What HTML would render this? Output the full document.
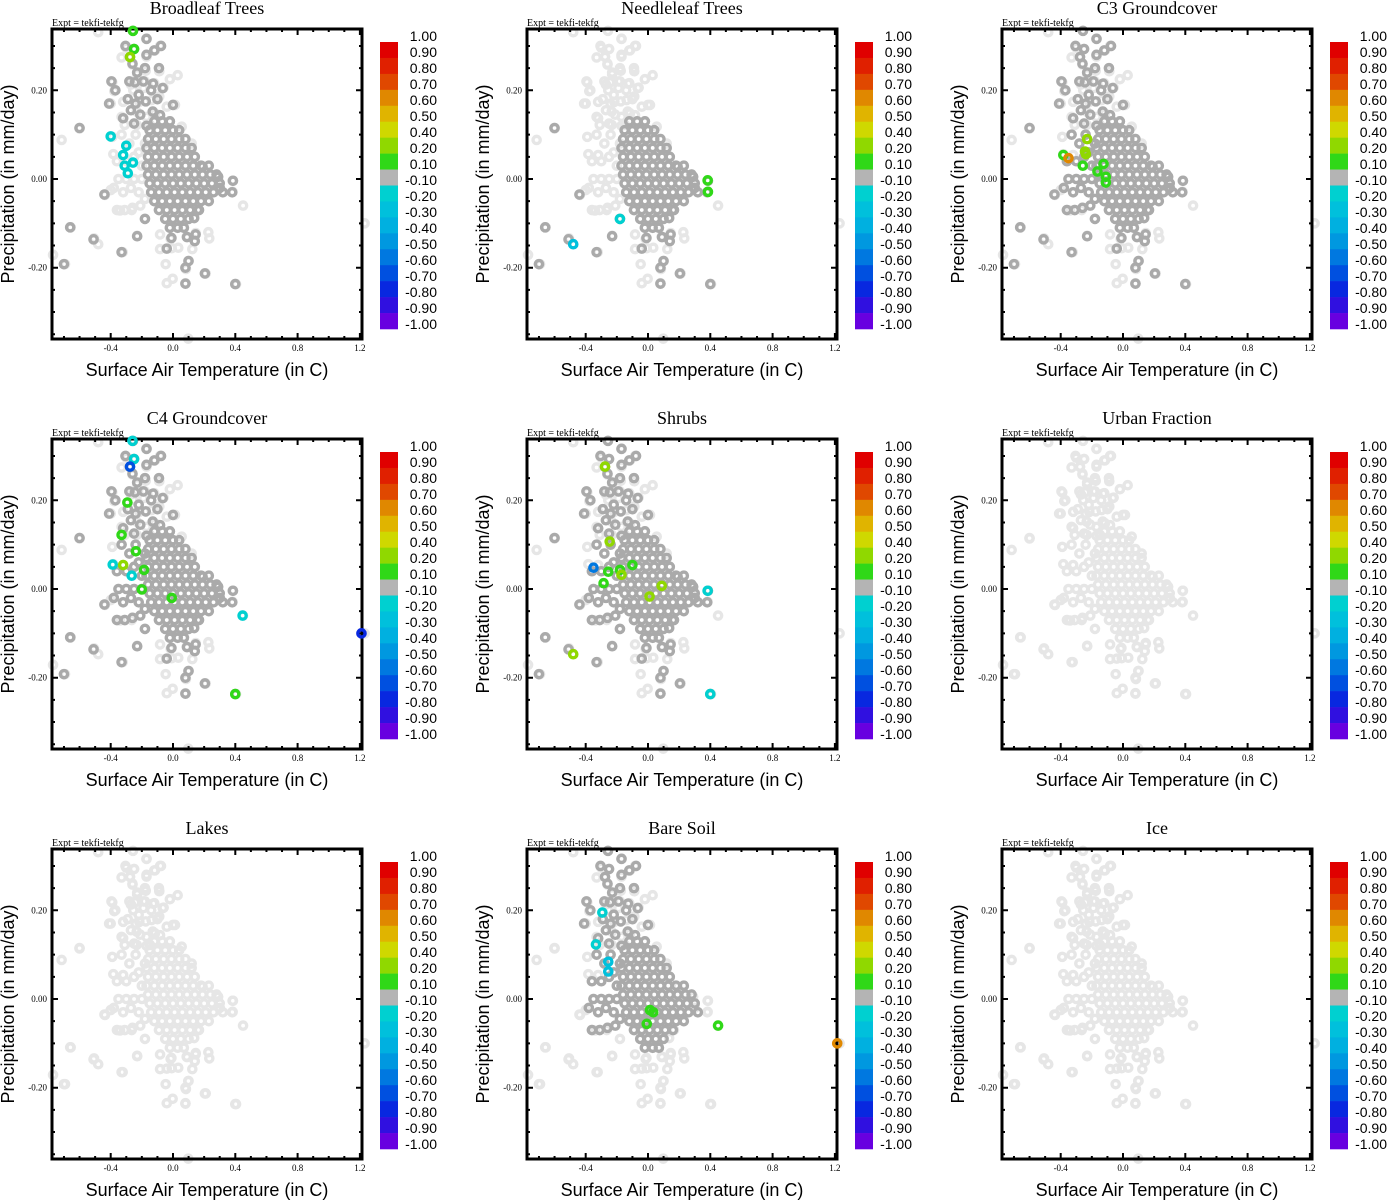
<!DOCTYPE html>
<html><head><meta charset="utf-8"><style>
html,body{margin:0;padding:0;background:#fff;}
svg{display:block;}
.tt{font-family:"Liberation Serif",serif;font-size:18px;}
.ex{font-family:"Liberation Serif",serif;font-size:10px;}
.tk{font-family:"Liberation Serif",serif;font-size:9px;}
.ax{font-family:"Liberation Sans",sans-serif;font-size:18px;}
.cb{font-family:"Liberation Sans",sans-serif;font-size:14px;}
</style></head><body>
<svg id="fig" width="1388" height="1200" viewBox="0 0 1388 1200" xmlns="http://www.w3.org/2000/svg"></svg>
<script>
// ---- data (x = temperature C, y = precipitation mm/day) ----
const cloudOuter = [[-0.48,0.331],[-0.17,0.316],[-0.3,0.296],[-0.25,0.293],[-0.083,0.3],[-0.116,0.29],[-0.33,0.274],[-0.276,0.276],[-0.17,0.276],[-0.26,0.258],[-0.175,0.244],[-0.088,0.243],[-0.23,0.236],[-0.02,0.225],[0.03,0.234],[-0.39,0.218],[-0.27,0.213],[-0.18,0.22],[-0.12,0.216],[-0.377,0.198],[-0.255,0.2],[-0.19,0.205],[-0.06,0.206],[-0.4,0.17],[-0.32,0.174],[-0.216,0.174],[-0.137,0.178],[-0.088,0.186],[-0.04,0.163],[0.013,0.167],[-0.233,0.152],[-0.33,0.14],[-0.17,0.14],[-0.116,0.148],[-0.6,0.114],[-0.715,0.088],[-0.39,0.095],[-0.31,0.122],[-0.233,0.122],[-0.148,0.122],[0.056,0.118],[0.12,0.08],[-0.383,0.056],[-0.32,0.054],[-0.437,-0.036],[-0.4,-0.025],[0.383,-0.004],[0.383,-0.029],[0.45,-0.06],[-0.34,-0.071],[-0.265,-0.07],[-0.657,-0.109],[-0.507,-0.134],[-0.48,-0.147],[-0.23,-0.128],[-0.323,-0.165],[-0.77,-0.171],[-0.693,-0.192],[-0.083,-0.125],[-0.015,-0.135],[-0.083,-0.158],[-0.008,-0.156],[0.034,-0.155],[0.088,-0.13],[0.146,-0.122],[0.227,-0.12],[0.233,-0.134],[0.124,-0.158],[-0.047,-0.192],[0.098,-0.185],[0.083,-0.203],[-0.04,-0.235],[-0.002,-0.225],[0.08,-0.235],[0.21,-0.213],[0.405,-0.237],[0.098,-0.36],[1.23,-0.1]];
const cloudTail = [[-0.257,0.334],[-0.25,0.293],[-0.276,0.275],[-0.17,0.316],[-0.077,0.3],[-0.12,0.29],[-0.305,0.3],[-0.17,0.28],[-0.26,0.26],[-0.23,0.24],[-0.18,0.25],[-0.09,0.25],[-0.395,0.22],[-0.28,0.22],[-0.244,0.218],[-0.19,0.22],[-0.128,0.215],[-0.066,0.205],[-0.1,0.18],[-0.37,0.2],[-0.41,0.17],[-0.29,0.18],[-0.24,0.17],[-0.175,0.175],[0.0,0.167],[-0.32,0.137],[-0.25,0.125],[-0.13,0.152],[-0.083,0.144],[-0.17,0.12],[-0.21,0.145],[-0.27,0.155],[-0.22,0.19],[-0.14,0.2]];
const cloudCoreLeft = [[-0.36,0.04],[-0.3,0.04],[-0.25,0.05],[-0.35,0.0],[-0.3,0.0],[-0.25,0.0],[-0.2,0.0],[-0.38,-0.02],[-0.32,-0.03],[-0.27,-0.02],[-0.22,-0.03],[-0.36,-0.07],[-0.31,-0.07],[-0.26,-0.065],[-0.21,-0.06],[-0.18,-0.045],[-0.2,0.03],[-0.22,0.06],[-0.28,0.08],[-0.33,0.1],[-0.24,0.1],[-0.18,0.08]];
const cloudCore = [
[-0.12,0.13],[-0.07,0.13],[-0.02,0.13],
[-0.15,0.11],[-0.1,0.11],[-0.05,0.11],[0.0,0.11],[0.04,0.11],
[-0.16,0.09],[-0.11,0.09],[-0.06,0.09],[-0.01,0.09],[0.04,0.09],[0.08,0.09],
[-0.17,0.07],[-0.12,0.07],[-0.07,0.07],[-0.02,0.07],[0.03,0.07],[0.08,0.07],[0.12,0.07],
[-0.16,0.05],[-0.11,0.05],[-0.06,0.05],[-0.01,0.05],[0.04,0.05],[0.09,0.05],[0.14,0.05],
[-0.17,0.03],[-0.12,0.03],[-0.07,0.03],[-0.02,0.03],[0.03,0.03],[0.08,0.03],[0.13,0.03],[0.18,0.03],[0.23,0.03],
[-0.16,0.01],[-0.11,0.01],[-0.06,0.01],[-0.01,0.01],[0.04,0.01],[0.09,0.01],[0.14,0.01],[0.19,0.01],[0.24,0.01],[0.28,0.01],
[-0.15,-0.01],[-0.1,-0.01],[-0.05,-0.01],[0.0,-0.01],[0.05,-0.01],[0.1,-0.01],[0.15,-0.01],[0.2,-0.01],[0.25,-0.01],[0.3,-0.01],
[-0.14,-0.03],[-0.09,-0.03],[-0.04,-0.03],[0.01,-0.03],[0.06,-0.03],[0.11,-0.03],[0.16,-0.03],[0.21,-0.03],[0.26,-0.03],[0.32,-0.03],
[-0.12,-0.05],[-0.07,-0.05],[-0.02,-0.05],[0.03,-0.05],[0.08,-0.05],[0.13,-0.05],[0.18,-0.05],[0.23,-0.05],
[-0.09,-0.07],[-0.04,-0.07],[0.01,-0.07],[0.06,-0.07],[0.11,-0.07],[0.16,-0.07],
[-0.05,-0.09],[0.0,-0.09],[0.05,-0.09],[0.1,-0.09],
[-0.02,-0.11],[0.03,-0.11],[0.07,-0.11]];
const cloudDarkOut = [[-0.6,0.115],[-0.44,-0.035],[-0.66,-0.109],[-0.51,-0.136],[-0.33,-0.165],[-0.23,-0.129],[-0.18,-0.09],[-0.7,-0.192],[0.385,-0.004],[0.38,-0.03],[0.167,-0.07],[0.136,-0.088],[-0.01,-0.133],[-0.04,-0.157],[0.09,-0.131],[0.145,-0.125],[0.14,-0.14],[0.1,-0.185],[0.08,-0.2],[0.08,-0.236],[0.205,-0.213],[0.4,-0.237],[0.3,-0.02],[0.19,0.028],[0.29,0.005]];

// colored (correlation) points: [x, y, value]
const ptsBroadleaf = [[-0.257,0.334,0.15],[-0.25,0.293,0.15],[-0.276,0.275,0.3],[-0.4,0.096,-0.15],[-0.3,0.075,-0.15],[-0.32,0.054,-0.15],[-0.31,0.03,-0.15],[-0.29,0.013,-0.15],[-0.257,0.037,-0.15]];
const ptsNeedleleaf = [[0.383,-0.003,0.15],[0.385,-0.029,0.15],[-0.18,-0.09,-0.15],[-0.48,-0.147,-0.25]];
const ptsC3 = [[-0.383,0.054,0.15],[-0.35,0.047,0.65],[-0.23,0.09,0.3],[-0.244,0.062,0.3],[-0.238,0.056,0.3],[-0.258,0.03,0.15],[-0.125,0.034,0.15],[-0.164,0.017,0.15],[-0.11,0.005,0.15],[-0.11,-0.008,0.15]];
const ptsC4 = [[-0.26,0.334,-0.15],[-0.25,0.293,-0.15],[-0.276,0.276,-0.65],[-0.293,0.195,0.15],[-0.33,0.122,0.15],[-0.238,0.085,0.15],[-0.387,0.055,-0.15],[-0.32,0.054,0.3],[-0.265,0.03,-0.15],[-0.186,0.043,0.15],[-0.2,-0.001,0.15],[-0.008,-0.02,0.15],[0.447,-0.06,-0.15],[1.21,-0.1,-0.75],[0.4,-0.237,0.15]];
const ptsShrubs = [[-0.276,0.276,0.3],[-0.246,0.107,0.3],[-0.35,0.048,-0.55],[-0.255,0.039,0.15],[-0.18,0.043,0.15],[-0.17,0.032,0.3],[-0.1,0.054,0.15],[-0.285,0.013,0.15],[0.088,0.007,0.3],[0.01,-0.017,0.3],[0.383,-0.004,-0.15],[-0.48,-0.147,0.3],[0.4,-0.237,-0.15]];
const ptsUrban = [];
const ptsLakes = [];
const ptsBareSoil = [[-0.293,0.195,-0.15],[-0.334,0.123,-0.15],[-0.255,0.084,-0.25],[-0.255,0.062,-0.25],[0.013,-0.025,0.15],[0.034,-0.03,0.15],[-0.008,-0.056,0.15],[0.45,-0.06,0.15],[1.215,-0.1,0.65]];
const ptsIce = [];

// axes / colorbar
const xTicks = [-0.4,0.0,0.4,0.8,1.2];
const xTickLabels = ['-0.4','0.0','0.4','0.8','1.2'];
const xMinor = [-0.7,-0.6,-0.5,-0.3,-0.2,-0.1,0.1,0.2,0.3,0.5,0.6,0.7,0.9,1.0,1.1];
const yTicks = [-0.2,0.0,0.2];
const yTickLabels = ['-0.20','0.00','0.20'];
const yMinor = [-0.35,-0.3,-0.25,-0.15,-0.1,-0.05,0.05,0.1,0.15,0.25,0.3];
const cbLabels = ['1.00','0.90','0.80','0.70','0.60','0.50','0.40','0.20','0.10','-0.10','-0.20','-0.30','-0.40','-0.50','-0.60','-0.70','-0.80','-0.90','-1.00'];
const cbLevels = [1.0,0.9,0.8,0.7,0.6,0.5,0.4,0.2,0.1,-0.1,-0.2,-0.3,-0.4,-0.5,-0.6,-0.7,-0.8,-0.9,-1.0];
const cbColors = ['#e00000','#e02000','#e04800','#e08800','#e0b400','#cfd800','#90d800','#30d818','#b4b4b4','#00d0d0','#00c0dc','#00b0e0','#0098e0','#0078e0','#0050e0','#0828e0','#3010e0','#6800e0'];

const panelTitles = ['Broadleaf Trees','Needleleaf Trees','C3 Groundcover','C4 Groundcover','Shrubs','Urban Fraction','Lakes','Bare Soil','Ice'];
const panelPts = [ptsBroadleaf,ptsNeedleleaf,ptsC3,ptsC4,ptsShrubs,ptsUrban,ptsLakes,ptsBareSoil,ptsIce];
const panelDark = [['tail','core','darkOut'],['core','darkOut'],['tail','core','coreLeft','darkOut'],['tail','core','coreLeft','darkOut'],['tail','core','coreLeft','darkOut'],[],[],['tail','core','coreLeft'],[]];
const groups = {tail:cloudTail, core:cloudCore, coreLeft:cloudCoreLeft, darkOut:cloudDarkOut};

const NS='http://www.w3.org/2000/svg';
const svg=document.getElementById('fig');
function mk(tag,attrs,parent){const e=document.createElementNS(NS,tag);for(const k in attrs)e.setAttribute(k,attrs[k]);(parent||svg).appendChild(e);return e;}
function colorFor(v){for(let i=0;i<cbColors.length;i++){if(v<=cbLevels[i]&&v>=cbLevels[i+1])return cbColors[i];}return '#b4b4b4';}
const MR=3.6, MW=3.4;

const slug=t=>t.toLowerCase().replace(/[^a-z0-9]+/g,'-');
panelTitles.forEach((title,pi)=>{
  const PX=[0,475,950][pi%3], PY=[0,410,820][Math.floor(pi/3)];
  const xs=v=>PX+173+v*155.75, ys=v=>PY+179-v*443.5;
  const L=PX+52,R=PX+362,T=PY+29,B=PY+339;
  const g=mk('g',{});
  
  
  const t=mk('text',{x:PX+207,y:PY+14,'text-anchor':'middle',class:'tt'},g);t.textContent=title;
  
  
  const ex=mk('text',{x:L,y:PY+26,class:'ex'},g);ex.textContent='Expt = tekfi-tekfg';
  
  
  const lg=mk('g',{fill:'none',stroke:'#e6e6e6','stroke-width':MW},g);
  
  
  [cloudOuter,cloudTail,cloudCoreLeft,cloudCore,cloudDarkOut].forEach(arr=>arr.forEach(p=>{mk('circle',{cx:xs(p[0]),cy:ys(p[1]),r:MR},lg);}));
  const dg=mk('g',{fill:'none',stroke:'#aaaaaa','stroke-width':MW},g);
  
  
  panelDark[pi].forEach(k=>groups[k].forEach(p=>{mk('circle',{cx:xs(p[0]),cy:ys(p[1]),r:MR},dg);}));
  const fr=mk('rect',{x:L,y:T,width:R-L,height:B-T,fill:'none',stroke:'#000','stroke-width':3},g);
  
  
  let d='';
  xTicks.forEach(v=>{const x=xs(v);d+=`M${x},${B}v-6M${x},${T}v6`;});
  xMinor.forEach(v=>{const x=xs(v);d+=`M${x},${B}v-3M${x},${T}v3`;});
  yTicks.forEach(v=>{const y=ys(v);d+=`M${L},${y}h6M${R},${y}h-6`;});
  yMinor.forEach(v=>{const y=ys(v);d+=`M${L},${y}h3M${R},${y}h-3`;});
  const tk=mk('path',{d:d,stroke:'#000','stroke-width':2,fill:'none'},g);
  
  
  xTicks.forEach((v,i)=>{const e=mk('text',{x:xs(v),y:B+12,'text-anchor':'middle',class:'tk'},g);e.textContent=xTickLabels[i];
    
    });
  yTicks.forEach((v,i)=>{const e=mk('text',{x:L-5,y:ys(v)+3,'text-anchor':'end',class:'tk'},g);e.textContent=yTickLabels[i];
    
    });
  const xt=mk('text',{x:PX+207,y:PY+376,'text-anchor':'middle',class:'ax'},g);xt.textContent='Surface Air Temperature (in C)';
  
  
  const yt=mk('text',{x:0,y:0,'text-anchor':'middle',class:'ax',transform:`translate(${PX+14},${PY+184}) rotate(-90)`},g);yt.textContent='Precipitation (in mm/day)';
  
  
  const cg=mk('g',{fill:'none','stroke-width':MW},g);
  
  
  panelPts[pi].forEach(p=>{const c=mk('circle',{cx:xs(p[0]),cy:ys(p[1]),r:MR,stroke:colorFor(p[2])},cg);
    
    });
  const cb=mk('g',{},g);
  
  
  const segH=287/cbColors.length;
  cbColors.forEach((c,i)=>{mk('rect',{x:PX+380,y:PY+42+i*segH,width:18,height:segH+0.3,fill:c},cb);});
  cbLabels.forEach((s,i)=>{const e=mk('text',{x:PX+437,y:PY+41+i*16,'text-anchor':'end',class:'cb'},cb);e.textContent=s;
    
    });
});
</script>
</body></html>
